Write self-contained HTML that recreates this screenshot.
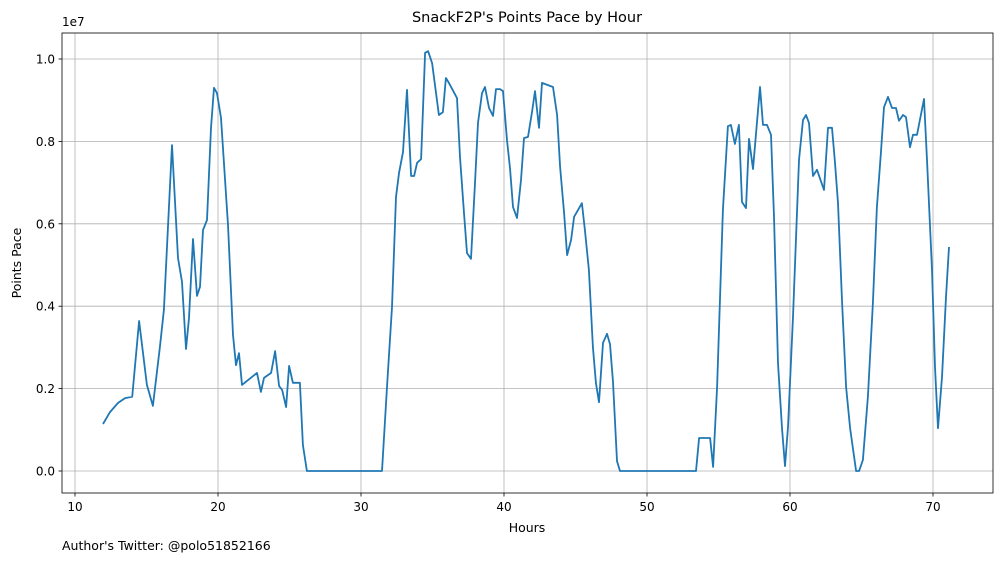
<!DOCTYPE html>
<html><head><meta charset="utf-8"><style>
body{margin:0;background:#fff;}
svg text{font-family:"DejaVu Sans","Liberation Sans",sans-serif;fill:#000;}
</style></head><body>
<svg id="chart" width="1001" height="562" xmlns="http://www.w3.org/2000/svg">
<rect width="1001" height="562" fill="#fff"/>
<g id="grid"></g>
<g id="ticks"></g>
<g id="series"></g>
<rect x="62" y="33" width="931" height="460" fill="none" stroke="#000" stroke-width="0.8"/>
<text x="527" y="22" text-anchor="middle" font-size="14.5">SnackF2P's Points Pace by Hour</text>
<text x="62" y="26" font-size="12">1e7</text>
<text transform="translate(21,263) rotate(-90)" text-anchor="middle" font-size="12.5">Points Pace</text>
<text x="527" y="532" text-anchor="middle" font-size="12.5">Hours</text>
<text x="62" y="550" font-size="12.5">Author's Twitter: @polo51852166</text>
</svg>
<script>
const xTicks=[10,20,30,40,50,60,70];
const yTicks=[0,0.2,0.4,0.6,0.8,1.0];
const yTickLabels=["0.0","0.2","0.4","0.6","0.8","1.0"];
const hours=[11.96,12.45,13.0,13.5,14.0,14.48,15.03,15.45,15.94,16.22,16.78,17.2,17.48,17.76,17.97,18.25,18.53,18.74,18.95,19.23,19.51,19.72,19.93,20.21,20.7,21.05,21.26,21.47,21.68,22.73,23.0,23.22,23.71,23.99,24.27,24.48,24.76,24.97,25.24,25.73,25.94,26.22,31.47,31.82,32.17,32.45,32.66,32.94,33.22,33.5,33.71,33.92,34.2,34.48,34.69,34.97,35.45,35.73,35.94,36.15,36.71,36.92,37.2,37.41,37.69,37.97,38.18,38.46,38.67,38.95,39.23,39.44,39.72,39.93,40.21,40.42,40.63,40.91,41.19,41.4,41.68,41.96,42.17,42.45,42.66,43.43,43.71,43.92,44.2,44.41,44.69,44.9,45.17,45.45,45.66,45.94,46.22,46.43,46.64,46.92,47.2,47.41,47.62,47.9,48.11,53.43,53.64,54.41,54.62,54.9,55.31,55.66,55.87,56.15,56.43,56.64,56.92,57.13,57.41,57.9,58.11,58.39,58.67,58.88,59.16,59.44,59.65,59.86,60.21,60.63,60.91,61.12,61.33,61.61,61.89,62.38,62.66,62.94,63.15,63.36,63.64,63.92,64.2,64.62,64.83,65.1,65.45,65.8,66.08,66.36,66.57,66.85,67.13,67.41,67.62,67.9,68.11,68.39,68.6,68.88,69.37,69.58,69.93,70.14,70.35,70.63,70.91,71.12];
const paceMillions=[1.14,1.43,1.65,1.77,1.80,3.64,2.09,1.58,3.01,3.91,7.91,5.17,4.59,2.96,3.71,5.63,4.25,4.47,5.85,6.09,8.33,9.30,9.17,8.57,5.97,3.30,2.57,2.86,2.09,2.38,1.92,2.26,2.38,2.91,2.06,1.97,1.55,2.55,2.14,2.14,0.63,0,0,2.04,3.98,6.65,7.23,7.74,9.25,7.16,7.16,7.48,7.57,10.15,10.19,9.9,8.64,8.71,9.54,9.42,9.05,7.62,6.26,5.29,5.15,6.99,8.45,9.17,9.32,8.81,8.62,9.27,9.27,9.22,8.03,7.35,6.41,6.14,7.06,8.08,8.11,8.71,9.22,8.33,9.42,9.32,8.64,7.38,6.26,5.24,5.61,6.17,6.33,6.5,5.85,4.88,3.01,2.14,1.67,3.11,3.33,3.08,2.16,0.24,0,0,0.80,0.80,0.1,2.04,6.33,8.37,8.4,7.94,8.4,6.53,6.38,8.06,7.33,9.32,8.4,8.4,8.16,6.17,2.62,1.04,0.12,1.07,3.74,7.55,8.52,8.64,8.45,7.16,7.31,6.82,8.33,8.33,7.48,6.5,4.08,2.04,1.04,0,0,0.27,1.8,4.08,6.41,7.72,8.83,9.08,8.81,8.81,8.5,8.64,8.59,7.86,8.16,8.16,9.03,7.55,4.88,2.52,1.04,2.28,4.22,5.44];
const NS="http://www.w3.org/2000/svg";
const xS=h=>75+(h-10)*14.3;
const yS=v=>471-v*412; // v in units of 1e7
const grid=document.getElementById('grid'),ticks=document.getElementById('ticks'),series=document.getElementById('series');
function mk(tag,attrs,parent){const e=document.createElementNS(NS,tag);for(const k in attrs)e.setAttribute(k,attrs[k]);parent.appendChild(e);return e;}
xTicks.forEach(t=>{
  const x=xS(t);
  const g=mk('line',{x1:x,x2:x,y1:33,y2:493,stroke:'#b0b0b0','stroke-width':0.8},grid);
  
  
  mk('line',{x1:x,x2:x,y1:493,y2:496.5,stroke:'#000','stroke-width':0.8},ticks);
  const tx=mk('text',{x:x,y:511,'text-anchor':'middle','font-size':12},ticks);
  
  
  tx.textContent=t;
});
yTicks.forEach((t,i)=>{
  const y=yS(t);
  const g=mk('line',{x1:62,x2:993,y1:y,y2:y,stroke:'#b0b0b0','stroke-width':0.8},grid);
  
  
  mk('line',{x1:58.5,x2:62,y1:y,y2:y,stroke:'#000','stroke-width':0.8},ticks);
  const tx=mk('text',{x:55,y:y+4.5,'text-anchor':'end','font-size':12},ticks);
  
  
  tx.textContent=yTickLabels[i];
});
const d=hours.map((h,i)=>(i?'L':'M')+xS(h).toFixed(1)+','+yS(paceMillions[i]/10).toFixed(1)).join(' ');
const p=mk('path',{d:d,fill:'none',stroke:'#1f77b4','stroke-width':1.8,'stroke-linejoin':'round'},series);


</script>
</body></html>
